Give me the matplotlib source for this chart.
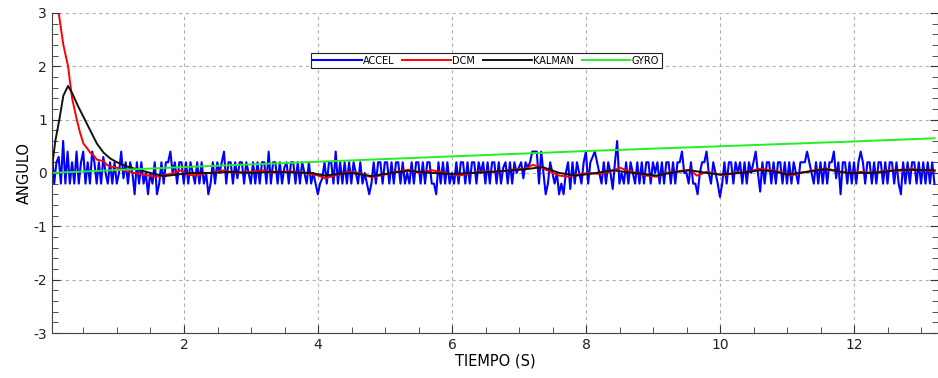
import numpy as np
import matplotlib
matplotlib.use("Agg")
import matplotlib.pyplot as plt
from matplotlib.ticker import MultipleLocator

plt.rcParams["axes.unicode_minus"] = False

# ACCEL: about 30 samples per second starting at t = 0.03 s
accel_t0 = 0.03
accel_dt = 1 / 30
accel = [
    # 0 - 1 s
    0.4, -0.2, 0.2, 0.3, -0.2, 0.6, -0.2, 0.4, -0.2, 0.2, -0.2, 0.4, -0.2, 0.2, 0.4,
    -0.2, 0.2, -0.2, 0.4, 0.2, -0.2, 0.2, -0.2, 0.3, 0.0, -0.2, 0.2, -0.2, 0.2, -0.2,
    # 1 - 2 s
    0.0, 0.4, -0.1, 0.2, -0.2, 0.2, 0.0, -0.4, 0.2, -0.2, 0.2, -0.2, 0.0, -0.4, 0.0,
    -0.2, 0.2, -0.4, -0.2, 0.2, -0.2, 0.2, 0.2, 0.4, 0.0, 0.2, -0.2, 0.2, 0.2, -0.2,
    # 2 - 3 s
    0.2, -0.2, 0.2, 0.0, -0.2, 0.2, -0.2, 0.2, -0.2, 0.0, -0.4, -0.2, 0.2, -0.2, 0.2,
    0.0, 0.2, 0.4, -0.2, 0.2, 0.2, -0.2, 0.2, -0.1, 0.2, 0.2, -0.2, 0.2, 0.0, -0.2,
    # 3 - 4 s
    0.2, -0.2, 0.2, -0.2, 0.2, 0.2, -0.2, 0.4, -0.2, 0.2, 0.2, -0.2, 0.2, -0.2, 0.1,
    0.2, -0.2, 0.2, 0.2, -0.2, 0.2, -0.2, 0.2, 0.0, -0.2, 0.2, -0.2, 0.0, -0.2, -0.4,
    # 4 - 5 s
    -0.2, -0.1, 0.2, -0.2, 0.2, 0.2, -0.2, 0.4, -0.2, 0.2, -0.2, 0.2, -0.2, 0.2, -0.2,
    0.2, 0.0, -0.2, 0.2, -0.2, 0.0, -0.2, -0.4, -0.2, 0.2, -0.2, 0.2, 0.2, -0.2, 0.2,
    # 5 - 6 s
    0.2, -0.2, 0.2, -0.2, 0.2, 0.2, -0.2, 0.2, -0.2, 0.0, -0.2, 0.2, -0.2, 0.2, 0.2,
    -0.2, 0.2, -0.2, 0.2, 0.2, -0.2, -0.2, -0.4, 0.2, -0.2, 0.2, -0.2, 0.2, -0.2, 0.0,
    # 6 - 7 s
    -0.2, 0.2, -0.2, 0.2, 0.2, -0.2, 0.2, -0.2, 0.2, 0.2, -0.2, 0.2, 0.0, 0.2, -0.2,
    0.2, -0.2, 0.2, 0.2, -0.2, 0.2, -0.2, 0.1, 0.2, -0.2, 0.2, -0.2, 0.2, 0.0, 0.1,
    # 7 - 8 s
    0.2, -0.1, 0.2, 0.1, 0.2, 0.4, 0.4, 0.4, -0.2, 0.4, 0.0, -0.4, -0.2, 0.2, 0.0,
    -0.2, 0.0, -0.4, -0.2, -0.4, 0.0, 0.2, -0.3, 0.2, -0.2, 0.2, 0.0, -0.2, 0.2, 0.4,
    # 8 - 9 s
    -0.2, 0.2, 0.3, 0.4, 0.2, 0.0, -0.2, 0.2, -0.2, 0.2, 0.0, -0.3, 0.2, 0.6, -0.2,
    0.0, -0.2, 0.2, -0.2, 0.2, 0.0, -0.2, 0.2, -0.2, 0.2, -0.2, 0.2, 0.2, -0.2, 0.2,
    # 9 - 10 s
    0.0, 0.2, -0.2, 0.2, -0.2, 0.2, 0.2, -0.2, 0.2, -0.2, 0.2, 0.2, 0.4, 0.0, 0.0,
    -0.2, 0.2, -0.2, -0.2, -0.4, 0.0, 0.2, 0.2, 0.4, 0.0, -0.2, 0.2, 0.0, -0.2, -0.45,
    # 10 - 11 s
    -0.2, 0.2, -0.2, 0.2, 0.2, -0.2, 0.2, 0.0, 0.2, -0.2, 0.2, -0.2, 0.2, 0.0, 0.2,
    0.4, 0.0, -0.35, 0.2, -0.2, 0.2, 0.2, -0.2, 0.2, -0.2, 0.2, 0.2, -0.2, 0.2, -0.2,
    # 11 - 12 s
    0.2, -0.2, 0.2, 0.0, -0.2, 0.2, 0.2, 0.2, 0.4, 0.2, 0.0, -0.2, 0.2, -0.2, 0.2,
    -0.2, 0.2, -0.2, 0.2, 0.2, 0.4, -0.1, 0.2, -0.4, 0.2, 0.2, -0.2, 0.2, -0.2, 0.2,
    # 12 - 13 s
    -0.2, 0.2, 0.4, 0.2, -0.2, 0.2, 0.2, -0.2, 0.2, -0.2, 0.2, 0.2, -0.2, 0.2, -0.2,
    0.2, 0.2, -0.2, 0.2, -0.2, -0.4, 0.2, -0.2, 0.2, -0.2, 0.2, 0.2, -0.2, 0.2, -0.2,
    # 13 s -
    0.2, -0.2, 0.2, -0.2, 0.2, -0.2,
]
accel_t = accel_t0 + accel_dt * np.arange(len(accel))

dcm_t = [0.03, 0.1, 0.13, 0.2, 0.27, 0.33, 0.4, 0.45, 0.5, 0.55, 0.6, 0.65, 0.7, 0.8, 0.85, 0.9, 1.0,
         1.1, 1.25, 1.4, 1.55, 1.65, 1.8, 1.95, 2.05, 2.2, 2.3, 2.4, 2.6, 2.7, 2.8, 3.0, 3.2, 3.3, 3.4,
         3.6, 3.8, 4.0, 4.1, 4.25, 4.45, 4.6, 4.8, 5.0, 5.2, 5.35, 5.5, 5.7, 5.9, 6.1, 6.3, 6.5, 6.7,
         6.9, 7.1, 7.2, 7.3, 7.45, 7.6, 7.75, 7.9, 8.05, 8.2, 8.35, 8.5, 8.6, 8.75, 8.9, 9.05, 9.2,
         9.35, 9.55, 9.65, 9.8, 9.95, 10.05, 10.2, 10.4, 10.6, 10.75, 10.9, 11.05, 11.2, 11.4, 11.6,
         11.75, 11.9, 12.1, 12.3, 12.5, 12.7, 12.85, 13.0, 13.2]
dcm = [4.6, 3.6, 3.0, 2.4, 2.0, 1.4, 1.0, 0.75, 0.55, 0.47, 0.38, 0.33, 0.25, 0.22, 0.15, 0.12, 0.1,
       0.05, 0.0, -0.03, -0.07, -0.06, -0.02, 0.05, -0.03, -0.05, -0.01, 0.0, 0.05, 0.01, 0.0, 0.02,
       0.05, 0.0, 0.02, 0.03, 0.0, -0.05, -0.1, -0.05, 0.02, 0.0, -0.08, -0.03, 0.03, 0.06, 0.0, 0.05,
       0.0, -0.05, 0.0, 0.03, 0.02, 0.06, 0.08, 0.15, 0.12, 0.03, -0.05, -0.07, -0.02, 0.0, -0.02,
       0.02, 0.1, 0.05, 0.0, -0.05, -0.07, 0.0, 0.03, 0.06, -0.05, 0.02, -0.02, -0.05, 0.0, 0.02,
       0.08, 0.05, 0.02, -0.05, 0.0, 0.05, 0.08, 0.03, 0.0, 0.02, 0.0, 0.05, 0.04, 0.08, 0.05, 0.03]

kalman_t = [0.03, 0.08, 0.14, 0.2, 0.27, 0.33, 0.42, 0.52, 0.6, 0.7, 0.8, 0.9, 1.0, 1.15, 1.35, 1.5,
            1.7, 1.9, 2.1, 2.4, 2.7, 3.0, 3.3, 3.6, 3.9, 4.1, 4.3, 4.5, 4.8, 5.1, 5.35, 5.7, 6.0, 6.3,
            6.6, 6.9, 7.1, 7.35, 7.6, 7.85, 8.1, 8.4, 8.7, 9.05, 9.3, 9.55, 9.8, 10.0, 10.3, 10.6, 10.8,
            11.0, 11.3, 11.57, 11.9, 12.3, 12.7, 13.2]
kalman = [0.1, 0.6, 1.0, 1.45, 1.63, 1.5, 1.25, 1.0, 0.8, 0.55, 0.38, 0.27, 0.2, 0.12, 0.05, 0.0,
          -0.06, -0.03, 0.0, 0.0, 0.02, 0.0, 0.02, 0.01, 0.0, -0.05, -0.02, 0.0, -0.06, 0.0, 0.04, 0.0,
          -0.02, 0.0, 0.02, 0.05, 0.07, 0.11, 0.0, -0.05, -0.01, 0.05, 0.0, -0.05, 0.01, 0.05, 0.0,
          -0.03, 0.0, 0.05, 0.03, -0.03, 0.02, 0.07, 0.0, 0.0, 0.06, 0.05]

gyro_t = [0.03, 2, 4, 6, 8, 10, 12, 13.2]
gyro = [0.0, 0.11, 0.21, 0.31, 0.41, 0.5, 0.59, 0.65]

fig = plt.figure(figsize=(9.38, 3.78), dpi=100)
ax = fig.add_axes([0.0554, 0.119, 0.9446, 0.847])

ax.plot(accel_t, accel, color="#0000ff", lw=1.5, label="ACCEL")
ax.plot(dcm_t, dcm, color="#ff0000", lw=1.4, label="DCM")
ax.plot(kalman_t, kalman, color="#111111", lw=1.4, label="KALMAN")
ax.plot(gyro_t, gyro, color="#22ee22", lw=1.4, label="GYRO")

ax.set_xlim(0.03, 13.25)
ax.set_ylim(-3, 3)
ax.xaxis.set_major_locator(MultipleLocator(2))
ax.xaxis.set_minor_locator(MultipleLocator(0.5))
ax.yaxis.set_major_locator(MultipleLocator(1))
ax.yaxis.set_minor_locator(MultipleLocator(0.2))

ax.grid(True, which="major", linestyle=(0, (3, 3)), color="#b0b0b0", lw=0.8)
ax.tick_params(which="both", direction="in", right=True, colors="#333333", labelcolor="#222222",
               labelsize=10)
ax.tick_params(which="major", length=6)
ax.tick_params(which="minor", length=4)
ax.spines["top"].set_visible(False)
for side in ["left", "bottom", "right"]:
    ax.spines[side].set_color("#444444")

ax.set_xlabel("TIEMPO (S)", fontsize=10.5, labelpad=1)
ax.set_ylabel("ANGULO", fontsize=10.5, labelpad=1)

leg = ax.legend(loc="center", bbox_to_anchor=(0.49, 0.85), ncol=4, fontsize=7, handlelength=5.0,
                handletextpad=0.15, columnspacing=0.8, borderpad=0.25, fancybox=False,
                framealpha=1, edgecolor="#222222")
leg.get_frame().set_linewidth(0.8)

plt.savefig("out.png", dpi=100)
